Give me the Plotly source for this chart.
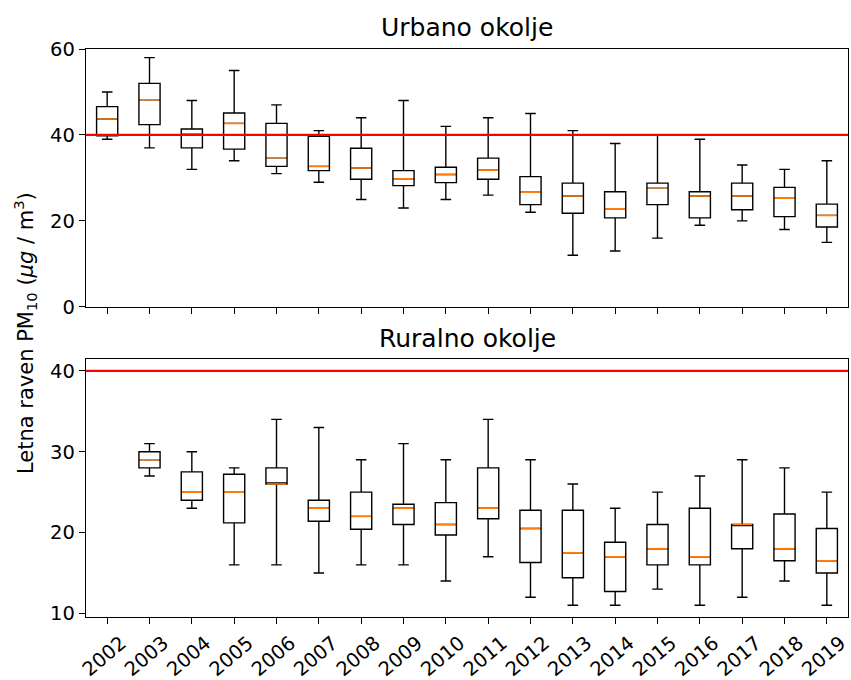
import plotly.graph_objects as go

years = [str(y) for y in range(2002, 2020)]

# Urbano okolje
urb_min = [39, 37, 32, 34, 31, 29, 25, 23, 25, 26, 22, 12, 13, 16, 19, 20, 18, 15]
urb_q1 = [39.8, 42.4, 37.0, 36.7, 32.7, 31.7, 29.7, 28.2, 28.9, 29.7, 23.8, 21.8, 20.7, 23.8, 20.7, 22.6, 21.0, 18.6]
urb_med = [43.7, 48.2, 40.2, 42.7, 34.7, 32.7, 32.3, 29.8, 30.8, 31.8, 26.7, 25.8, 22.8, 27.7, 25.8, 25.8, 25.3, 21.3]
urb_q3 = [46.6, 52.0, 41.4, 45.1, 42.7, 39.7, 36.9, 31.7, 32.5, 34.6, 30.3, 28.8, 26.8, 28.8, 26.8, 28.8, 27.8, 23.9]
urb_max = [50, 58, 48, 55, 47, 41, 44, 48, 42, 44, 45, 41, 38, 40, 39, 33, 32, 34]

# Ruralno okolje (no data for 2002)
rur_years = years[1:]
rur_min = [27, 23, 16, 16, 15, 16, 16, 14, 17, 12, 11, 11, 13, 11, 12, 14, 11]
rur_q1 = [28.0, 24.0, 21.2, 26.0, 21.4, 20.4, 21.0, 19.7, 21.7, 16.3, 14.4, 12.7, 16.0, 16.0, 18.0, 16.5, 15.0]
rur_med = [29.0, 25.0, 25.0, 26.0, 23.0, 22.0, 23.0, 21.0, 23.0, 20.5, 17.5, 17.0, 18.0, 17.0, 21.0, 18.0, 16.5]
rur_q3 = [30.0, 27.5, 27.2, 28.0, 24.0, 25.0, 23.5, 23.7, 28.0, 22.75, 22.75, 18.8, 21.0, 23.0, 21.0, 22.3, 20.5]
rur_max = [31, 30, 28, 34, 33, 29, 31, 29, 34, 29, 26, 23, 25, 27, 29, 28, 25]

limit_value = 40

FONT = "DejaVu Sans"
BOX_W = 0.5

pos_all = {y: i for i, y in enumerate(years)}

fig = go.Figure()


def add_panel(yrs, lo, q1, med, q3, hi, xa, ya):
    xs = [pos_all[y] for y in yrs]
    fig.add_trace(go.Box(
        x=xs, q1=q1, median=med, q3=q3, lowerfence=lo, upperfence=hi,
        width=BOX_W, whiskerwidth=0.5, boxpoints=False,
        line=dict(color="black", width=1.4), fillcolor="rgba(0,0,0,0)",
        xaxis=xa, yaxis=ya, showlegend=False, hoverinfo="skip",
    ))
    mx, my = [], []
    for x, m in zip(xs, med):
        mx += [x - BOX_W / 2 + 0.02, x + BOX_W / 2 - 0.02, None]
        my += [m, m, None]
    fig.add_trace(go.Scatter(
        x=mx, y=my, mode="lines", line=dict(color="#ff7f0e", width=1.6),
        xaxis=xa, yaxis=ya, showlegend=False, hoverinfo="skip",
    ))


add_panel(years, urb_min, urb_q1, urb_med, urb_q3, urb_max, "x", "y")
add_panel(rur_years, rur_min, rur_q1, rur_med, rur_q3, rur_max, "x2", "y2")

for yref, xref in (("y", "x"), ("y2", "x2")):
    fig.add_shape(type="line", xref=f"{xref} domain", yref=yref, x0=0, x1=1,
                  y0=limit_value, y1=limit_value, line=dict(color="red", width=2.2),
                  layer="above")

axis_common = dict(
    showline=True, mirror=True, linecolor="black", linewidth=1.3,
    ticks="outside", ticklen=6, tickwidth=1.3, tickcolor="black",
    showgrid=False, zeroline=False,
    tickfont=dict(family=FONT, size=19.5, color="black"),
)

fig.update_layout(
    width=851, height=680,
    margin=dict(l=86, r=3, t=49, b=63, autoexpand=False),
    paper_bgcolor="white", plot_bgcolor="white",
    boxmode="overlay",
    font=dict(family=FONT, color="black"),
    xaxis=dict(domain=[0, 1], range=[-0.5, 17.5], anchor="y",
               tickvals=list(range(len(years))), showticklabels=False,
               **axis_common),
    yaxis=dict(domain=[0.546, 1], range=[0, 60], tickvals=[0, 20, 40, 60],
               anchor="x", **axis_common),
    xaxis2=dict(domain=[0, 1], range=[-0.5, 17.5], anchor="y2",
                tickvals=list(range(len(years))), ticktext=years,
                tickangle=-40, ticklabelshift=14,
                ticklabeloverflow="allow", **axis_common),
    yaxis2=dict(domain=[0, 0.454], range=[9.55, 41.45], tickvals=[10, 20, 30, 40],
                anchor="x2", **axis_common),
)

fig.add_annotation(text="Urbano okolje", xref="paper", yref="paper", x=0.5, y=1.0387,
                   xanchor="center", yanchor="middle", showarrow=False,
                   font=dict(family=FONT, size=25, color="black"))
fig.add_annotation(text="Ruralno okolje", xref="paper", yref="paper", x=0.5, y=0.491,
                   xanchor="center", yanchor="middle", showarrow=False,
                   font=dict(family=FONT, size=25, color="black"))
fig.add_annotation(text="Letna raven PM<sub>10</sub> (<i>μg</i> / m<sup>3</sup>)",
                   xref="paper", yref="paper", x=-0.0801, y=0.5, textangle=-90,
                   xanchor="center", yanchor="middle", showarrow=False,
                   font=dict(family=FONT, size=21, color="black"))

fig.write_html("out.html", config={"displayModeBar": False},
               post_script="document.body.style.margin='0';")
